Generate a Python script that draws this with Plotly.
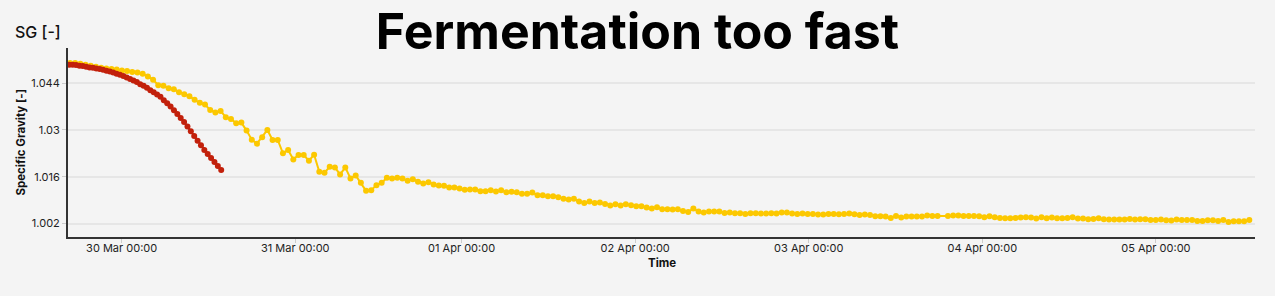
import pandas as pd
import plotly.graph_objects as go

# ---------------- data ----------------
measured_start = "2024-03-29 16:51"
measured_step = "2586s"
measured_sg = [
    1.0500, 1.0500, 1.0498, 1.0495, 1.0492, 1.0489, 1.0486, 1.0484, 1.0482, 1.0481,
    1.0478, 1.0476, 1.0473, 1.0472, 1.0468, 1.0460, 1.0450, 1.0434, 1.0432, 1.0425,
    1.0422, 1.0413, 1.0407, 1.0401, 1.0390, 1.0381, 1.0376, 1.0360, 1.0352, 1.0357,
    1.0338, 1.0333, 1.0320, 1.0322, 1.0298, 1.0271, 1.0259, 1.0278, 1.0300, 1.0270,
    1.0270, 1.0230, 1.0240, 1.0212, 1.0225, 1.0225, 1.0208, 1.0226, 1.0175, 1.0172,
    1.0190, 1.0188, 1.0167, 1.0188, 1.0155, 1.0164, 1.0142, 1.0118, 1.0120, 1.0135,
    1.0142, 1.0157, 1.0155, 1.0157, 1.0155, 1.0148, 1.0153, 1.0145, 1.0140, 1.0144,
    1.0137, 1.0134, 1.0133, 1.0128, 1.0128, 1.0125, 1.0121, 1.0122, 1.0122, 1.0117,
    1.0117, 1.0120, 1.0116, 1.0120, 1.0114, 1.0115, 1.0114, 1.0109, 1.0109, 1.0113,
    1.0105, 1.0105, 1.0102, 1.0102, 1.0099, 1.0094, 1.0092, 1.0094, 1.0086, 1.0082,
    1.0086, 1.0082, 1.0083, 1.0079, 1.0074, 1.0078, 1.0074, 1.0078, 1.0075, 1.0072,
    1.0072, 1.0068, 1.0065, 1.0069, 1.0063, 1.0063, 1.0062, 1.0063, 1.0058, 1.0055,
    1.0065, 1.0056, 1.0053, 1.0056, 1.0056, 1.0056, 1.0052, 1.0053, 1.0051, 1.0051,
    1.0049, 1.0051, 1.0051, 1.0050, 1.0050, 1.0051, 1.0050, 1.0053, 1.0053, 1.0050,
    1.0049, 1.0050, 1.0049, 1.0049, 1.0047, 1.0047, 1.0049, 1.0049, 1.0048, 1.0049,
    1.0050, 1.0048, 1.0046, 1.0047, 1.0046, 1.0042, 1.0042, 1.0041, 1.0037, 1.0043,
    1.0038, 1.0041, 1.0041, 1.0041, 1.0041, 1.0044, 1.0043, 1.0043, None,   1.0043,
    1.0044, 1.0044, 1.0043, 1.0043, 1.0043, 1.0042, 1.0039, 1.0042, 1.0039, 1.0037,
    1.0036, 1.0036, 1.0037, 1.0038, 1.0039, 1.0038, 1.0035, 1.0039, 1.0036, 1.0038,
    1.0036, 1.0036, 1.0037, 1.0039, 1.0035, 1.0035, 1.0033, 1.0034, 1.0036, 1.0033,
    1.0032, 1.0032, 1.0032, 1.0032, 1.0034, 1.0032, 1.0033, 1.0033, 1.0031, 1.0031,
    1.0032, 1.0030, 1.0029, 1.0032, 1.0031, 1.0031, 1.0031, 1.0028, 1.0028, 1.0030,
    1.0030, 1.0028, 1.0031, 1.0025, 1.0027, 1.0027, 1.0027, 1.0031,
]

fast_start = "2024-03-29 16:46"
fast_step = "28min"
fast_sg = [
    1.0495, 1.0495, 1.0494, 1.0492, 1.0491, 1.0489, 1.0487, 1.0486, 1.0484, 1.0482,
    1.0480, 1.0477, 1.0475, 1.0472, 1.0468, 1.0465, 1.0461, 1.0457, 1.0452, 1.0448,
    1.0443, 1.0437, 1.0432, 1.0426, 1.0419, 1.0413, 1.0406, 1.0399, 1.0389, 1.0380,
    1.0370, 1.0359, 1.0348, 1.0336, 1.0324, 1.0310, 1.0296, 1.0282, 1.0268, 1.0254,
    1.0240, 1.0228, 1.0216, 1.0204, 1.0192, 1.0180,
]

x_tick_vals = ["2024-03-30 00:00", "2024-03-31 00:00", "2024-03-31 23:00",
               "2024-04-01 23:00", "2024-04-02 23:00", "2024-04-03 23:00",
               "2024-04-04 23:00"]
x_tick_text = ["30 Mar 00:00", "31 Mar 00:00", "01 Apr 00:00", "02 Apr 00:00",
               "03 Apr 00:00", "04 Apr 00:00", "05 Apr 00:00"]
y_tick_vals = [1.002, 1.016, 1.030, 1.044]
y_tick_text = ["1.002", "1.016", "1.03", "1.044"]

measured_t = pd.date_range(measured_start, periods=len(measured_sg), freq=measured_step)
fast_t = pd.date_range(fast_start, periods=len(fast_sg), freq=fast_step)

# ---------------- figure ----------------
FONT = "Inter"
YELLOW = "#fcc800"
RED = "#c2200b"

fig = go.Figure()
fig.add_trace(go.Scatter(
    x=measured_t, y=measured_sg, mode="lines+markers", connectgaps=True,
    line=dict(color=YELLOW, width=2), marker=dict(color=YELLOW, size=6),
    showlegend=False, hoverinfo="skip"))
fig.add_trace(go.Scatter(
    x=fast_t, y=fast_sg, mode="lines+markers",
    line=dict(color=RED, width=2), marker=dict(color=RED, size=6),
    showlegend=False, hoverinfo="skip"))

fig.update_layout(
    width=1275, height=296,
    margin=dict(l=68, r=20, t=48, b=59),
    paper_bgcolor="#f4f4f4", plot_bgcolor="#f4f4f4",
    font=dict(family=FONT, color="#222222", size=11),
    title=dict(text="<b>Fermentation too fast</b>", x=0.5, xanchor="center",
               xref="container", y=0.895, yanchor="middle", yref="container",
               font=dict(family=FONT, size=50, color="#000000")),
    xaxis=dict(
        range=["2024-03-29 16:35", "2024-04-05 12:42"],
        tickmode="array", tickvals=x_tick_vals, ticktext=x_tick_text,
        showgrid=False, zeroline=False,
        showline=True, linecolor="#333333", linewidth=2,
        ticks="outside", ticklen=4, tickcolor="#cccccc", tickwidth=1,
        ticklabelstandoff=-4,
        tickfont=dict(size=11, color="#222222"),
    ),
    yaxis=dict(
        range=[0.998, 1.0545],
        tickmode="array", tickvals=y_tick_vals, ticktext=y_tick_text,
        showgrid=True, gridcolor="#e6e6e6", gridwidth=2, zeroline=False,
        showline=True, linecolor="#333333", linewidth=2,
        ticks="outside", ticklen=4, tickcolor="#cccccc", tickwidth=1,
        tickfont=dict(size=11, color="#222222"),
    ),
    annotations=[
        dict(text="SG [-]", xref="paper", yref="paper", x=-0.0463, y=1.0865,
             xanchor="left", yanchor="middle", showarrow=False,
             font=dict(family=FONT, size=16, color="#111111", weight=500)),
        dict(text="<b>Specific Gravity [-]</b>", xref="paper", yref="paper",
             x=-0.0404, y=0.5, xanchor="center", yanchor="middle",
             textangle=-90, showarrow=False,
             font=dict(family=FONT, size=11.5, color="#111111")),
        dict(text="<b>Time</b>", xref="paper", yref="paper", x=0.5, y=-0.1396,
             xanchor="center", yanchor="middle", showarrow=False,
             font=dict(family=FONT, size=11.5, color="#111111")),
    ],
)

fig.write_html("out.html")
